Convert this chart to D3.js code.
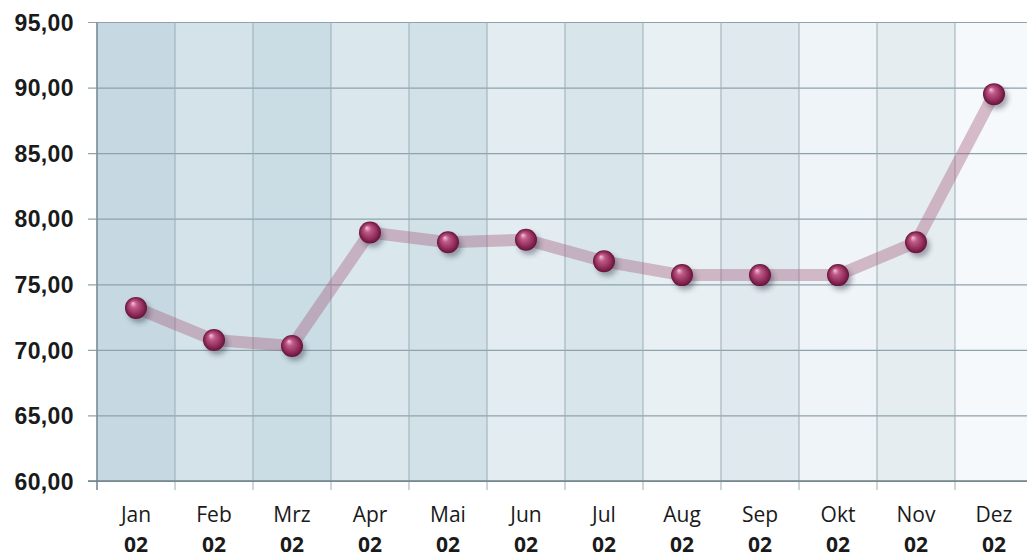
<!DOCTYPE html>
<html>
<head>
<meta charset="utf-8">
<script src="https://cdn.jsdelivr.net/npm/d3@7"></script>
<style>
  body { margin: 0; background: #fff; }
  svg { display: block; font-family: "Open Sans", sans-serif; }
</style>
</head>
<body>
<div id="chart"></div>
<script>
// chart data
const months = ["Jan", "Feb", "Mrz", "Apr", "Mai", "Jun", "Jul", "Aug", "Sep", "Okt", "Nov", "Dez"];
const years = ["02", "02", "02", "02", "02", "02", "02", "02", "02", "02", "02", "02"];
const values = [73.2, 70.75, 70.3, 78.95, 78.2, 78.4, 76.75, 75.7, 75.7, 75.7, 78.2, 89.5];
const yTicks = [60, 65, 70, 75, 80, 85, 90, 95];

// column shades, left (blue) to right (near white)
const shades = ["#c6d9e2", "#d4e3ea", "#cadde4", "#dae8ee", "#d1e1e7", "#e2ecf1",
                "#d8e6eb", "#e9f0f4", "#e0e9ed", "#eef4f7", "#e6edf0", "#f6f9fb"];

const width = 1027;
const height = 558;
const plotLeft = 97, plotTop = 22, plotBottom = 481;

const svg = d3.select("#chart")
    .append("svg")
    .attr("width", width)
    .attr("height", height);

const defs = svg.append("defs");

const ball = defs.append("radialGradient")
    .attr("id", "ball")
    .attr("cx", "50%").attr("cy", "50%").attr("r", "50%")
    .attr("fx", "35%").attr("fy", "28%");
ball.append("stop").attr("offset", "0%").attr("stop-color", "#f3c6d8");
ball.append("stop").attr("offset", "30%").attr("stop-color", "#c05a88");
ball.append("stop").attr("offset", "75%").attr("stop-color", "#8e2a58");
ball.append("stop").attr("offset", "100%").attr("stop-color", "#611538");

const shadow = defs.append("filter")
    .attr("id", "shadow")
    .attr("x", "-50%").attr("y", "-50%").attr("width", "200%").attr("height", "200%");
shadow.append("feDropShadow")
    .attr("dx", 3).attr("dy", 4).attr("stdDeviation", 2.5)
    .attr("flood-color", "#334")
    .attr("flood-opacity", 0.4);

const x = d3.scaleBand()
    .domain(months)
    .range([plotLeft, plotLeft + 78 * 12])
    .padding(0);

const y = d3.scaleLinear()
    .domain([60, 95])
    .range([plotBottom, plotTop]);

// background columns
svg.append("g")
    .selectAll("rect")
    .data(months)
    .join("rect")
    .attr("x", d => x(d))
    .attr("y", plotTop)
    .attr("width", x.bandwidth())
    .attr("height", plotBottom - plotTop)
    .attr("fill", (d, i) => shades[i]);

// horizontal grid + y axis
const yAxis = d3.axisLeft(y)
    .tickValues(yTicks)
    .tickSize(-(width - plotLeft + 9))
    .tickPadding(14)
    .tickFormat(d => d3.format(".2f")(d).replace(".", ","));

svg.append("g")
    .attr("transform", `translate(${plotLeft - 9},0)`)
    .call(yAxis)
    .call(g => g.select(".domain").remove())
    .call(g => g.selectAll("line")
        .attr("stroke", "#8fa2ac")
        .attr("stroke-width", 1.2))
    .call(g => g.selectAll("text")
        .attr("font-size", 23)
        .attr("font-weight", 700)
        .attr("letter-spacing", 0.4)
        .attr("fill", "#1a1a1a")
        .attr("dy", "0.36em"));

// vertical grid lines at column boundaries
svg.append("g")
    .selectAll("line")
    .data(months)
    .join("line")
    .attr("x1", d => x(d))
    .attr("x2", d => x(d))
    .attr("y1", plotTop)
    .attr("y2", plotBottom + 9)
    .attr("stroke", "#9aacb5")
    .attr("stroke-width", 1);

// left axis line
svg.append("line")
    .attr("x1", plotLeft).attr("x2", plotLeft)
    .attr("y1", plotTop).attr("y2", plotBottom + 9)
    .attr("stroke", "#7d8f98")
    .attr("stroke-width", 1.5);

// bottom axis line
svg.append("line")
    .attr("x1", plotLeft - 9).attr("x2", width)
    .attr("y1", plotBottom).attr("y2", plotBottom)
    .attr("stroke", "#6f7f88")
    .attr("stroke-width", 1.5);

// month labels
const labels = svg.append("g")
    .attr("text-anchor", "middle")
    .attr("fill", "#1a1a1a");

labels.selectAll("text.month")
    .data(months)
    .join("text")
    .attr("class", "month")
    .attr("x", d => x(d) + x.bandwidth() / 2)
    .attr("y", 522)
    .attr("font-size", 21)
    .text(d => d);

labels.selectAll("text.year")
    .data(years)
    .join("text")
    .attr("class", "year")
    .attr("x", (d, i) => x(months[i]) + x.bandwidth() / 2)
    .attr("y", 552)
    .attr("font-size", 21)
    .attr("font-weight", 700)
    .text(d => d);

// line
const line = d3.line()
    .x((d, i) => x(months[i]) + x.bandwidth() / 2)
    .y(d => y(d));

svg.append("path")
    .datum(values)
    .attr("d", line)
    .attr("fill", "none")
    .attr("stroke", "#a4607f")
    .attr("stroke-opacity", 0.4)
    .attr("stroke-width", 12)
    .attr("stroke-linejoin", "round");

// points
svg.append("g")
    .selectAll("circle")
    .data(values)
    .join("circle")
    .attr("cx", (d, i) => x(months[i]) + x.bandwidth() / 2)
    .attr("cy", d => y(d))
    .attr("r", 11)
    .attr("fill", "url(#ball)")
    .attr("filter", "url(#shadow)");
</script>
</body>
</html>
